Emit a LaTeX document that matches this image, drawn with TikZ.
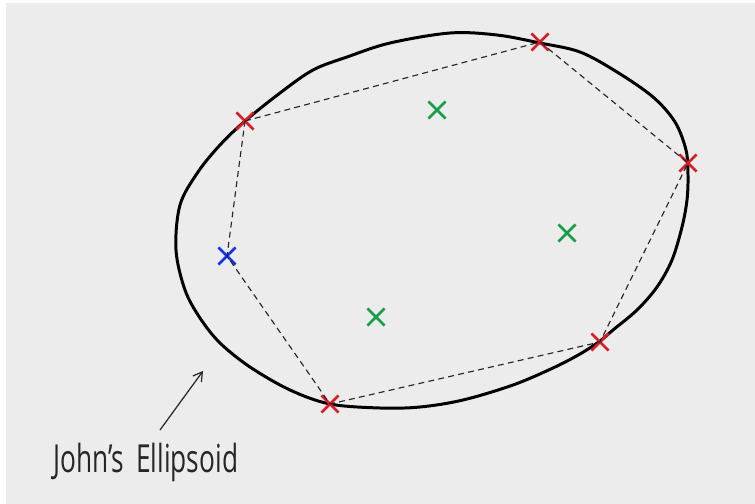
\documentclass[tikz,border=0pt]{standalone}
\usepackage{fontspec}
\setmainfont{Open Sans}
\usepackage{tikz}
\usetikzlibrary{
  arrows.meta,
  shapes.misc,
  calc
}

\definecolor{paper}{RGB}{236,236,236}
\definecolor{markred}{RGB}{214,30,40}
\definecolor{markgreen}{RGB}{24,158,72}
\definecolor{markblue}{RGB}{20,50,235}

\begin{document}
\begin{tikzpicture}[
  x=0.02cm, y=-0.02cm,
  mark/.style={
    cross out,
    draw=#1,
    line width=1.5pt,
    minimum size=0.29cm,
    inner sep=0pt,
  },
  mark/.default=markred,
  hull/.style={dashed, dash pattern=on 3.4pt off 2.4pt, line width=0.65pt, black!85},
  curve/.style={line width=1.7pt, black, line join=round},
  pointer/.style={-{Straight Barb[length=5pt,width=6pt]}, line width=0.7pt, black!85},
  hand/.style={font=\fontsize{22}{24}\selectfont, text=black!85, inner sep=0pt},
]

% ── Paper ──
\fill[white] (0,0) rectangle (755,504);
\fill[paper] (6,3) rectangle (755,504);
\useasboundingbox (0,0) rectangle (755,504);

% ── Ellipse ──
\draw[curve] plot[smooth cycle, tension=0.55] coordinates {
  (176,250) (180,205) (198,172) (220,145) (245,121) (280,93)
  (313,70) (347,57) (390,43) (450,33) (497,35) (540,43) (580,52)
  (617,72) (653,97) (675,122) (686,150) (688,175) (687,200)
  (682,227) (672,260) (657,287) (637,310) (613,330) (600,341)
  (580,354) (553,368) (513,385) (463,400) (420,407) (380,408)
  (330,404) (290,390) (250,367) (220,343) (200,318) (185,290)
};

% ── Points ──
\node[mark] (r1) at (245,121) {};
\node[mark] (r2) at (540,42) {};
\node[mark] (r3) at (688,163) {};
\node[mark] (r4) at (600,342) {};
\node[mark] (r5) at (330,404) {};
\node[mark=markblue] (b1) at (227,256) {};
\node[mark=markgreen] (g1) at (437,110) {};
\node[mark=markgreen] (g2) at (567,233) {};
\node[mark=markgreen] (g3) at (376,317) {};

% ── Hull ──
\draw[hull] (r1.center) -- (r2.center) -- (r3.center) -- (r4.center)
  -- (r5.center) -- (b1.center) -- (r1.center);

% ── Label ──
\node[hand, anchor=base west] (label) at (53,472)
  {\scalebox{0.68}[1]{John's\hspace{0.45em}Ellipsoid}};
\coordinate (tail) at (160,430);
\coordinate (head) at (203,371);
\draw[pointer] (tail) -- (head);

\end{tikzpicture}
\end{document}
